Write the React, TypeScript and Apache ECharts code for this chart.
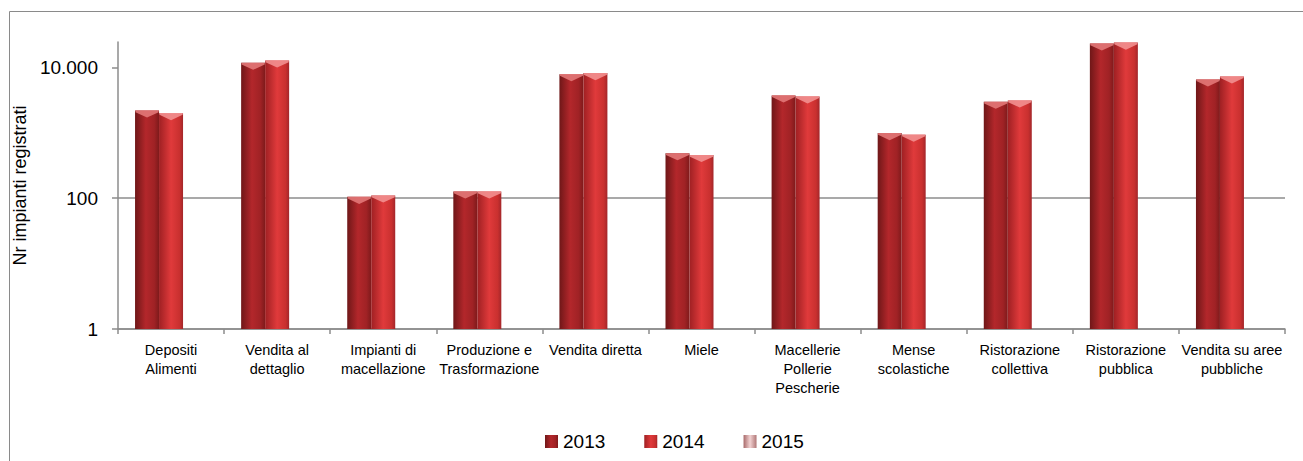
import React, { useEffect, useRef } from 'react';
import * as echarts from 'echarts';

const categories = [
  'Depositi\nAlimenti',
  'Vendita al\ndettaglio',
  'Impianti di\nmacellazione',
  'Produzione e\nTrasformazione',
  'Vendita diretta',
  'Miele',
  'Macellerie\nPollerie\nPescherie',
  'Mense\nscolastiche',
  'Ristorazione\ncollettiva',
  'Ristorazione\npubblica',
  'Vendita su aree\npubbliche',
];
const years = ['2013', '2014', '2015'];
const values2013 = [2200, 11800, 105, 127, 7900, 487, 3740, 993, 2990, 23300, 6560];
const values2014 = [2000, 12800, 110, 127, 8200, 458, 3610, 938, 3130, 24000, 7290];
const values2015: (number | null)[] = [null, null, null, null, null, null, null, null, null, null, null];
const yTicks = [1, 100, 10000];
const yMin = 1;
const yMax = 24500;

const FONT = '"Liberation Sans", Arial, sans-serif';

const fmt = (v: number) => String(Math.round(v)).replace(/\B(?=(\d{3})+(?!\d))/g, '.');

const grad = (stops: [number, string][]) =>
  new echarts.graphic.LinearGradient(0, 0, 1, 0, stops.map(([offset, color]) => ({ offset, color })));

export default function App() {
  const ref = useRef<HTMLDivElement>(null);
  useEffect(() => {
    if (!ref.current) return;
    const chart = echarts.init(ref.current, undefined, { renderer: 'svg' });
    const colors = [
      grad([[0, '#6f1718'], [0.45, '#b3272b'], [0.8, '#a02225'], [1, '#7e1a1b']]),
      grad([[0, '#9f2023'], [0.5, '#e03a3b'], [0.85, '#c9302f'], [1, '#a3262a']]),
      grad([[0, '#a86a6a'], [0.5, '#f2d2d2'], [1, '#b07777']]),
    ];
    const capColors = ['#e27878', '#f29090', '#f5d5d5'];
    const data = [values2013, values2014, values2015];
    const barSeries = years.map((y, i) => ({
      name: y,
      type: 'bar',
      data: data[i],
      barWidth: 24,
      barGap: '0%',
      itemStyle: { color: colors[i] },
    }));
    const capSeries = years.map((y, i) => ({
      name: 'cap' + y,
      type: 'pictorialBar',
      data: data[i],
      barWidth: 24,
      barGap: '0%',
      symbol: 'path://M0,0 L24,0 L24,2 L12,8 L0,2 Z',
      symbolSize: [23, 7],
      symbolPosition: 'end',
      symbolOffset: [0, 0],
      itemStyle: { color: capColors[i], opacity: 0.9 },
      silent: true,
      z: 3,
    }));
    chart.setOption({
      animation: false,
      backgroundColor: '#ffffff',
      textStyle: { fontFamily: FONT, color: '#000' },
      graphic: [
        {
          type: 'rect',
          shape: { x: 9.5, y: 11.5, width: 1400, height: 500 },
          style: { fill: 'none', stroke: '#8a8a8a', lineWidth: 1 },
          silent: true,
        },
      ],
      grid: { left: 118, right: 18, top: 42, bottom: 132, containLabel: false },
      legend: {
        left: 540,
        top: 427,
        itemWidth: 13,
        itemHeight: 13,
        itemGap: 39,
        icon: 'rect',
        textStyle: { fontFamily: FONT, fontSize: 19, color: '#000', padding: [0, 0, 0, 0] },
        data: years,
      },
      xAxis: {
        type: 'category',
        data: categories,
        axisLine: { lineStyle: { color: '#8c8c8c', width: 1.5 } },
        axisTick: { show: true, length: 5, lineStyle: { color: '#8c8c8c', width: 1.5 } },
        axisLabel: {
          interval: 0,
          margin: 11,
          fontFamily: FONT,
          fontSize: 14.5,
          lineHeight: 19,
          color: '#000',
        },
        splitLine: { show: false },
      },
      yAxis: {
        type: 'log',
        logBase: 100,
        min: yMin,
        max: yMax,
        name: 'Nr impianti registrati',
        nameLocation: 'middle',
        nameGap: 74,
        nameTextStyle: { fontFamily: FONT, fontSize: 18, color: '#000' },
        axisLine: { show: true, lineStyle: { color: '#8c8c8c', width: 1.5 } },
        axisTick: { show: true, length: 6, customValues: yTicks, lineStyle: { color: '#8c8c8c', width: 1.5 } },
        axisLabel: {
          customValues: yTicks,
          margin: 20,
          fontFamily: FONT,
          fontSize: 19,
          color: '#000',
          formatter: (v: number) => fmt(v),
        },
        splitLine: { show: true, showMaxLine: false, lineStyle: { color: '#8c8c8c', width: 1.5 } },
      },
      series: [...barSeries, ...capSeries],
    });
    return () => chart.dispose();
  }, []);
  return <div ref={ref} style={{ position: 'fixed', left: 0, top: 0, width: 1303, height: 461 }} />;
}
